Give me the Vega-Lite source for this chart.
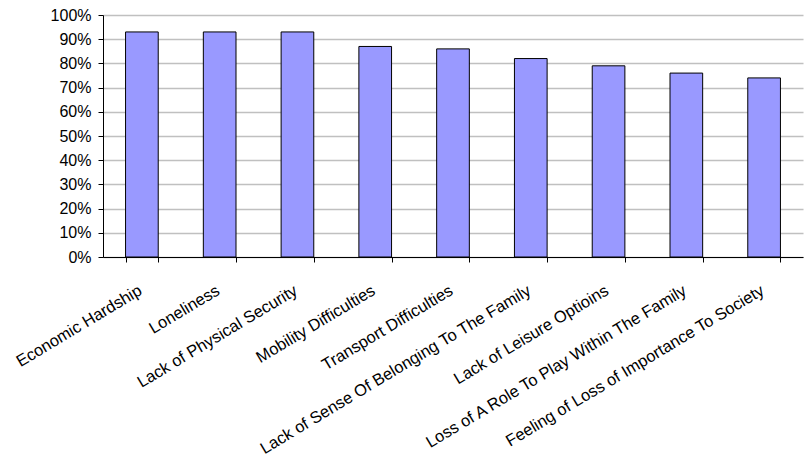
{
  "$schema": "https://vega.github.io/schema/vega-lite/v6.json",
  "width": 700,
  "height": 242,
  "autosize": {"type": "none"},
  "padding": {"left": 103, "top": 15, "right": 2, "bottom": 209},
  "background": "white",
  "config": {"view": {"stroke": null}, "font": "Liberation Sans"},
  "data": {
    "values": [
      {"issue": "Economic Hardship", "share": 0.93},
      {"issue": "Loneliness", "share": 0.93},
      {"issue": "Lack of Physical Security", "share": 0.93},
      {"issue": "Mobility Difficulties", "share": 0.87},
      {"issue": "Transport Difficulties", "share": 0.86},
      {"issue": "Lack of Sense Of Belonging To The Family", "share": 0.82},
      {"issue": "Lack of Leisure Optioins", "share": 0.79},
      {"issue": "Loss of A Role To Play Within The Family", "share": 0.76},
      {"issue": "Feeling of Loss of Importance To Society", "share": 0.74}
    ]
  },
  "mark": {"type": "bar", "fill": "#9999FF", "stroke": "#000000", "strokeWidth": 1},
  "encoding": {
    "x": {
      "field": "issue",
      "type": "nominal",
      "sort": null,
      "title": null,
      "scale": {"paddingInner": 0.58, "paddingOuter": 0.29},
      "axis": {
        "labelAngle": -31,
        "labelAlign": "right",
        "labelBaseline": "top",
        "labelPadding": 20,
        "labelOffset": -6,
        "labelFontSize": 16.5,
        "labelColor": "#000000",
        "labelLimit": 400,
        "tickBand": "extent",
        "tickSize": 5,
        "tickColor": "#000000",
        "domainColor": "#000000",
        "grid": false
      }
    },
    "y": {
      "field": "share",
      "type": "quantitative",
      "title": null,
      "scale": {"domain": [0, 1], "nice": false},
      "axis": {
        "values": [0, 0.1, 0.2, 0.3, 0.4, 0.5, 0.6, 0.7, 0.8, 0.9, 1],
        "format": ".0%",
        "labelFontSize": 16,
        "labelColor": "#000000",
        "labelPadding": 7,
        "tickSize": 5,
        "tickColor": "#000000",
        "domainColor": "#000000",
        "gridColor": "#c0c0c0",
        "gridWidth": 1.5
      }
    }
  }
}
